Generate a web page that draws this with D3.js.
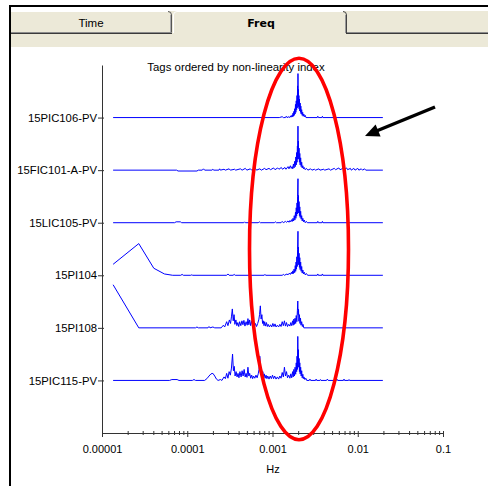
<!DOCTYPE html>
<html>
<head>
<meta charset="utf-8">
<script src="https://cdn.jsdelivr.net/npm/d3@7"></script>
<style>
body { margin: 0; background: #fff; }
svg { display: block; }
</style>
</head>
<body>
<div id="chart"></div>
<script>
// tags, top to bottom
const tags = ["15PIC106-PV", "15FIC101-A-PV", "15LIC105-PV", "15PI104", "15PI108", "15PIC115-PV"];
const majorTicks = [1e-5, 1e-4, 1e-3, 1e-2, 1e-1];
const tickLabels = ["0.00001", "0.0001", "0.001", "0.01", "0.1"];

// normalised spectra, [Hz, amplitude]
const pic106 = [[1.35e-5,0],[1.2e-3,0],[1.3e-3,0.02],[1.34e-3,0],[1.42e-3,0],[1.45e-3,0.03],[1.48e-3,0],[1.56e-3,0.02],[1.6e-3,0],[1.64e-3,0.04],[1.67e-3,0.01],[1.7e-3,0.06],[1.72e-3,0.02],[1.74e-3,0.1],[1.76e-3,0.03],[1.78e-3,0.14],[1.8e-3,0.05],[1.82e-3,0.2],[1.84e-3,0.08],[1.86e-3,0.3],[1.88e-3,0.12],[1.9e-3,0.38],[1.92e-3,0.18],[1.94e-3,0.5],[1.95e-3,0.22],[1.97e-3,0.72],[1.98e-3,0.3],[1.99e-3,1.0],[2.0e-3,0.45],[2.01e-3,0.64],[2.02e-3,0.25],[2.04e-3,0.5],[2.05e-3,0.2],[2.07e-3,0.42],[2.09e-3,0.15],[2.11e-3,0.33],[2.13e-3,0.12],[2.15e-3,0.26],[2.17e-3,0.08],[2.2e-3,0.18],[2.23e-3,0.05],[2.26e-3,0.12],[2.29e-3,0.03],[2.33e-3,0.08],[2.37e-3,0.02],[2.42e-3,0.05],[2.47e-3,0],[3.35e-3,0],[3.4e-3,0.03],[3.45e-3,0],[3.8e-3,0],[3.85e-3,0.03],[3.9e-3,0],[1.97e-2,0]];

const fic101a = [[1.35e-5,0],[7.5e-5,0],[7.8e-5,-0.02],[1.3e-4,-0.02],[1.35e-4,0],[1.5e-4,0],[1.55e-4,0.03],[1.6e-4,0],[1.95e-4,0],[2.0e-4,0.02],[2.05e-4,0],[2.35e-4,0],[2.4e-4,0.03],[2.45e-4,0],[2.7e-4,0.02],[2.8e-4,0],[3.1e-4,0.03],[3.2e-4,0],[3.6e-4,0.02],[3.7e-4,0],[4.2e-4,0.03],[4.4e-4,0],[4.8e-4,0.04],[5.0e-4,0],[5.5e-4,0.03],[5.7e-4,0],[6.3e-4,0.04],[6.5e-4,0],[7.1e-4,0.03],[7.4e-4,0],[8.1e-4,0.04],[8.4e-4,0.01],[9.1e-4,0.04],[9.5e-4,0.01],[1.03e-3,0.05],[1.07e-3,0.01],[1.15e-3,0.05],[1.19e-3,0.02],[1.27e-3,0.06],[1.31e-3,0.02],[1.4e-3,0.06],[1.44e-3,0.02],[1.52e-3,0.08],[1.56e-3,0.03],[1.62e-3,0.1],[1.66e-3,0.04],[1.7e-3,0.08],[1.73e-3,0.03],[1.76e-3,0.14],[1.79e-3,0.05],[1.82e-3,0.2],[1.85e-3,0.08],[1.88e-3,0.3],[1.9e-3,0.12],[1.92e-3,0.4],[1.94e-3,0.18],[1.96e-3,0.55],[1.97e-3,0.25],[1.99e-3,1.0],[2.0e-3,0.4],[2.01e-3,0.66],[2.03e-3,0.25],[2.05e-3,0.5],[2.07e-3,0.18],[2.09e-3,0.38],[2.11e-3,0.12],[2.14e-3,0.28],[2.17e-3,0.08],[2.2e-3,0.18],[2.23e-3,0.05],[2.27e-3,0.1],[2.31e-3,0.03],[2.36e-3,0.06],[2.42e-3,0.01],[2.5e-3,0.04],[2.6e-3,0],[2.8e-3,0.03],[2.9e-3,0],[3.1e-3,0.02],[3.2e-3,0],[3.5e-3,0.03],[3.6e-3,0],[4.0e-3,0.02],[4.1e-3,0],[4.6e-3,0.03],[4.8e-3,0],[5.3e-3,0.04],[5.5e-3,0.01],[6.0e-3,0.05],[6.2e-3,0.01],[6.7e-3,0.04],[6.9e-3,0.01],[7.4e-3,0.05],[7.6e-3,0.01],[8.2e-3,0.04],[8.4e-3,0],[9.0e-3,0.04],[9.3e-3,0],[1.0e-2,0.04],[1.03e-2,0],[1.1e-2,0.03],[1.14e-2,0],[1.2e-2,0.03],[1.24e-2,0],[1.97e-2,0]];

const lic105 = [[1.35e-5,0],[7.1e-5,0],[7.4e-5,0.02],[8.3e-5,0.02],[8.6e-5,0],[4.6e-4,0],[4.7e-4,0.02],[4.8e-4,0],[6.8e-4,0],[7.0e-4,0.02],[7.2e-4,0],[1.05e-3,0],[1.08e-3,0.02],[1.11e-3,0],[1.26e-3,0],[1.3e-3,0.03],[1.34e-3,0],[1.42e-3,0.03],[1.46e-3,0.01],[1.52e-3,0.04],[1.56e-3,0.01],[1.6e-3,0.05],[1.64e-3,0.02],[1.68e-3,0.07],[1.71e-3,0.03],[1.74e-3,0.1],[1.77e-3,0.04],[1.8e-3,0.16],[1.83e-3,0.06],[1.86e-3,0.24],[1.88e-3,0.1],[1.9e-3,0.34],[1.92e-3,0.15],[1.94e-3,0.45],[1.96e-3,0.2],[1.97e-3,0.6],[1.99e-3,1.0],[2.0e-3,0.35],[2.01e-3,0.62],[2.03e-3,0.22],[2.05e-3,0.48],[2.07e-3,0.16],[2.09e-3,0.36],[2.11e-3,0.12],[2.14e-3,0.26],[2.17e-3,0.08],[2.2e-3,0.16],[2.23e-3,0.04],[2.27e-3,0.1],[2.31e-3,0.02],[2.36e-3,0.06],[2.42e-3,0],[2.5e-3,0.03],[2.56e-3,0],[3.35e-3,0],[3.4e-3,0.03],[3.45e-3,0],[3.8e-3,0],[3.85e-3,0.03],[3.9e-3,0],[1.97e-2,0]];

const pi104 = [[1.35e-5,0.25],[2.7e-5,0.72],[4.05e-5,0.16],[5.4e-5,0.03],[6.75e-5,0],[8.4e-5,0],[8.7e-5,0.02],[9.0e-5,0],[1.1e-4,0],[1.13e-4,0.01],[1.16e-4,0],[2.9e-4,0],[3.0e-4,0.03],[3.1e-4,0],[3.45e-4,0],[3.55e-4,0.02],[3.65e-4,0],[8.0e-4,0],[8.15e-4,0.02],[8.3e-4,0],[1.3e-3,0],[1.34e-3,0.02],[1.38e-3,0],[1.48e-3,0.03],[1.52e-3,0.01],[1.58e-3,0.05],[1.62e-3,0.02],[1.67e-3,0.07],[1.7e-3,0.03],[1.73e-3,0.1],[1.76e-3,0.04],[1.79e-3,0.14],[1.82e-3,0.06],[1.85e-3,0.22],[1.87e-3,0.09],[1.89e-3,0.3],[1.91e-3,0.14],[1.93e-3,0.42],[1.95e-3,0.2],[1.97e-3,0.58],[1.99e-3,1.0],[2.0e-3,0.38],[2.01e-3,0.64],[2.03e-3,0.24],[2.05e-3,0.5],[2.07e-3,0.18],[2.09e-3,0.4],[2.11e-3,0.13],[2.14e-3,0.3],[2.17e-3,0.09],[2.2e-3,0.2],[2.23e-3,0.05],[2.27e-3,0.12],[2.31e-3,0.03],[2.36e-3,0.07],[2.42e-3,0.01],[2.5e-3,0.04],[2.58e-3,0],[3.35e-3,0],[3.4e-3,0.03],[3.45e-3,0],[3.8e-3,0],[3.85e-3,0.03],[3.9e-3,0],[1.97e-2,0]];

const pi108 = [[1.35e-5,0.98],[2.7e-5,0],[1.25e-4,0],[1.3e-4,0.02],[1.35e-4,0],[1.75e-4,0],[1.8e-4,0.03],[1.85e-4,0],[2.0e-4,0.02],[2.1e-4,0],[2.5e-4,0],[2.65e-4,0.06],[2.75e-4,0.02],[2.9e-4,0.14],[3.0e-4,0.05],[3.12e-4,0.18],[3.22e-4,0.1],[3.3e-4,0.25],[3.38e-4,0.43],[3.46e-4,0.16],[3.54e-4,0.3],[3.62e-4,0.08],[3.72e-4,0.18],[3.82e-4,0.05],[3.92e-4,0.12],[4.02e-4,0.03],[4.12e-4,0.14],[4.25e-4,0.05],[4.38e-4,0.16],[4.5e-4,0.07],[4.62e-4,0.17],[4.75e-4,0.04],[4.9e-4,0.14],[5.05e-4,0.06],[5.15e-4,0.21],[5.28e-4,0.07],[5.4e-4,0.18],[5.55e-4,0.05],[5.7e-4,0.16],[5.85e-4,0.06],[6.0e-4,0.12],[6.15e-4,0.04],[6.3e-4,0.1],[6.5e-4,0.03],[6.7e-4,0.1],[6.9e-4,0.18],[7.05e-4,0.3],[7.2e-4,0.5],[7.35e-4,0.2],[7.5e-4,0.3],[7.65e-4,0.1],[7.8e-4,0.16],[7.95e-4,0.05],[8.1e-4,0.14],[8.3e-4,0.04],[8.5e-4,0.12],[8.7e-4,0.03],[8.9e-4,0.08],[9.2e-4,0.02],[9.5e-4,0.07],[9.8e-4,0.02],[1.01e-3,0.1],[1.04e-3,0.03],[1.07e-3,0.09],[1.1e-3,0.02],[1.14e-3,0.06],[1.18e-3,0.02],[1.22e-3,0.08],[1.26e-3,0.03],[1.3e-3,0.14],[1.34e-3,0.05],[1.38e-3,0.16],[1.42e-3,0.04],[1.46e-3,0.12],[1.5e-3,0.03],[1.55e-3,0.08],[1.6e-3,0.04],[1.64e-3,0.12],[1.68e-3,0.05],[1.72e-3,0.16],[1.75e-3,0.06],[1.78e-3,0.2],[1.81e-3,0.08],[1.84e-3,0.22],[1.87e-3,0.1],[1.9e-3,0.28],[1.93e-3,0.14],[1.96e-3,0.4],[1.98e-3,0.61],[2.0e-3,0.3],[2.02e-3,0.42],[2.04e-3,0.15],[2.07e-3,0.3],[2.1e-3,0.1],[2.13e-3,0.22],[2.16e-3,0.06],[2.2e-3,0.14],[2.24e-3,0.03],[2.28e-3,0.08],[2.33e-3,0],[1.97e-2,0]];

const pic115 = [[1.35e-5,0],[6.2e-5,0],[6.6e-5,0.02],[7.6e-5,0.02],[8.0e-5,0],[1.15e-4,0],[1.2e-4,0.02],[1.25e-4,0],[1.6e-4,0],[1.7e-4,0.04],[1.8e-4,0.1],[1.9e-4,0.15],[2.0e-4,0.16],[2.1e-4,0.1],[2.2e-4,0.03],[2.3e-4,0],[2.45e-4,0.02],[2.55e-4,0],[2.7e-4,0.08],[2.8e-4,0.04],[2.9e-4,0.16],[3.0e-4,0.05],[3.1e-4,0.2],[3.2e-4,0.12],[3.3e-4,0.28],[3.4e-4,0.6],[3.48e-4,0.22],[3.56e-4,0.32],[3.64e-4,0.1],[3.74e-4,0.2],[3.84e-4,0.08],[3.94e-4,0.16],[4.04e-4,0.06],[4.15e-4,0.2],[4.28e-4,0.08],[4.4e-4,0.22],[4.52e-4,0.1],[4.65e-4,0.25],[4.78e-4,0.08],[4.9e-4,0.16],[5.02e-4,0.07],[5.15e-4,0.3],[5.28e-4,0.1],[5.4e-4,0.16],[5.55e-4,0.05],[5.7e-4,0.12],[5.85e-4,0.04],[6.0e-4,0.1],[6.2e-4,0.05],[6.4e-4,0.12],[6.6e-4,0.06],[6.8e-4,0.15],[6.95e-4,0.25],[7.1e-4,0.55],[7.25e-4,0.2],[7.4e-4,0.3],[7.55e-4,0.1],[7.7e-4,0.2],[7.85e-4,0.06],[8.0e-4,0.15],[8.2e-4,0.05],[8.4e-4,0.12],[8.6e-4,0.04],[8.8e-4,0.1],[9.1e-4,0.03],[9.4e-4,0.1],[9.7e-4,0.04],[1.0e-3,0.12],[1.03e-3,0.04],[1.06e-3,0.1],[1.1e-3,0.03],[1.14e-3,0.08],[1.18e-3,0.03],[1.22e-3,0.1],[1.26e-3,0.05],[1.3e-3,0.18],[1.34e-3,0.08],[1.38e-3,0.3],[1.42e-3,0.1],[1.46e-3,0.2],[1.5e-3,0.06],[1.55e-3,0.12],[1.6e-3,0.05],[1.64e-3,0.15],[1.68e-3,0.06],[1.72e-3,0.2],[1.75e-3,0.08],[1.78e-3,0.25],[1.81e-3,0.1],[1.84e-3,0.3],[1.87e-3,0.14],[1.9e-3,0.4],[1.92e-3,0.2],[1.94e-3,0.55],[1.96e-3,0.25],[1.98e-3,1.0],[2.0e-3,0.4],[2.01e-3,0.7],[2.03e-3,0.3],[2.05e-3,0.5],[2.07e-3,0.2],[2.09e-3,0.4],[2.11e-3,0.15],[2.14e-3,0.3],[2.17e-3,0.1],[2.2e-3,0.22],[2.23e-3,0.06],[2.27e-3,0.14],[2.3e-3,0.04],[2.34e-3,0.08],[2.4e-3,0.02],[2.46e-3,0.05],[2.52e-3,0],[2.7e-3,0],[2.75e-3,0.03],[2.8e-3,0],[3.2e-3,0],[3.25e-3,0.03],[3.3e-3,0],[3.6e-3,0],[3.65e-3,0.02],[3.7e-3,0],[4.3e-3,0],[4.4e-3,0.03],[4.5e-3,0],[5.6e-3,0],[5.7e-3,0.03],[5.8e-3,0],[6.8e-3,0],[6.9e-3,0.03],[7.0e-3,0],[7.8e-3,0],[7.9e-3,0.02],[8.0e-3,0],[1.97e-2,0]];

const spectra = [pic106, fic101a, lic105, pi104, pi108, pic115];

const W = 488, H = 486;
const svg = d3.select("#chart").append("svg")
  .attr("width", W).attr("height", H);

svg.append("rect").attr("width", W).attr("height", H).attr("fill", "#fff");

// window frame + tab strip
svg.append("rect").attr("x", 9).attr("y", 5).attr("width", W - 9).attr("height", 2).attr("fill", "#000");
svg.append("rect").attr("x", 9).attr("y", 5).attr("width", 2).attr("height", H - 5).attr("fill", "#000");
svg.append("rect").attr("x", 11).attr("y", 11).attr("width", W - 11).attr("height", 36).attr("fill", "#ECE9D8");

// line under unselected tabs
[[11, 172], [346, W]].forEach(function (s) {
  svg.append("rect").attr("x", s[0]).attr("y", 32).attr("width", s[1] - s[0]).attr("height", 1).attr("fill", "#8c8c8c");
  svg.append("rect").attr("x", s[0]).attr("y", 33).attr("width", s[1] - s[0]).attr("height", 1).attr("fill", "#3a3a3a");
});
// Time tab
svg.append("path").attr("d", "M11,11.5H168").attr("stroke", "#fff").attr("fill", "none");
svg.append("path").attr("d", "M168,11.5Q171.5,11.5 171.5,15V32").attr("stroke", "#555").attr("fill", "none");
svg.append("path").attr("d", "M170.5,15V32").attr("stroke", "#aaa").attr("fill", "none");
// Freq tab (selected)
svg.append("path").attr("d", "M173.5,33V15Q173.5,11.5 177,11.5H343").attr("stroke", "#fff").attr("fill", "none");
svg.append("path").attr("d", "M343,11.5Q346.5,11.5 346.5,15V33").attr("stroke", "#444").attr("fill", "none");
svg.append("path").attr("d", "M345.5,15V33").attr("stroke", "#999").attr("fill", "none");

svg.append("text").attr("x", 91).attr("y", 27).attr("text-anchor", "middle")
  .style("font-family", "'Liberation Sans', Arial, sans-serif").style("font-size", "11.5px")
  .text("Time");
svg.append("text").attr("x", 261).attr("y", 27).attr("text-anchor", "middle")
  .style("font-family", "'DejaVu Sans', sans-serif").style("font-size", "11px").style("font-weight", "bold")
  .text("Freq");

// scales
const x = d3.scaleLog().domain([1e-5, 0.1]).range([102, 443]);
const y = d3.scalePoint().domain(tags).range([65, 433]).padding(1);
const amp = d3.scaleLinear().domain([0, 1]).range([0, 44]);

const font = "'Liberation Sans', Arial, sans-serif";

// x axis
let xAxis = svg.append("g")
  .attr("transform", "translate(0,433)")
  .call(d3.axisBottom(x)
    .tickValues(x.ticks())
    .tickSize(4).tickSizeOuter(0).tickPadding(8)
    .tickFormat(function (d) {
      let i = majorTicks.findIndex(m => Math.abs(m - d) / m < 1e-6);
      return i >= 0 ? tickLabels[i] : "";
    }));
xAxis.attr("font-family", font).attr("font-size", 11);
xAxis.select(".domain").attr("stroke", "#333");
xAxis.selectAll(".tick line").attr("stroke", "#333")
  .attr("y1", -2)
  .attr("y2", function (d) { return majorTicks.some(m => Math.abs(m - d) / m < 1e-6) ? 4 : 2; });
xAxis.selectAll(".tick text").attr("fill", "#000");

svg.append("text").attr("x", 273).attr("y", 473).attr("text-anchor", "middle")
  .style("font-family", font).style("font-size", "11px").text("Hz");

// y axis
let yAxis = svg.append("g")
  .attr("transform", "translate(102,0)")
  .call(d3.axisLeft(y).tickSize(4).tickSizeOuter(0).tickPadding(1));
yAxis.attr("font-family", font).attr("font-size", 11.3);
yAxis.select(".domain").attr("stroke", "#333");
yAxis.selectAll(".tick line").attr("stroke", "#333").attr("x1", 2);
yAxis.selectAll(".tick text").attr("fill", "#000");

svg.append("text").attr("x", 236).attr("y", 71).attr("text-anchor", "middle")
  .style("font-family", font).style("font-size", "11.4px")
  .text("Tags ordered by non-linearity index");

// spectra
tags.forEach(function (tag, i) {
  let line = d3.line()
    .x(d => x(d[0]))
    .y(d => y(tag) - amp(d[1]));
  svg.append("path")
    .datum(spectra[i])
    .attr("d", line)
    .attr("fill", "none")
    .attr("stroke", "#0000ff")
    .attr("stroke-width", 1);
});

// annotations
svg.append("ellipse")
  .attr("cx", 299).attr("cy", 249).attr("rx", 49.5).attr("ry", 190.7)
  .attr("fill", "none").attr("stroke", "#ff0000").attr("stroke-width", 3.6);

svg.append("line")
  .attr("x1", 435).attr("y1", 107).attr("x2", 374).attr("y2", 132)
  .attr("stroke", "#000").attr("stroke-width", 3.5);
svg.append("polygon")
  .attr("points", "365,136 375.6,124.6 380.6,136.4")
  .attr("fill", "#000");
</script>
</body>
</html>
